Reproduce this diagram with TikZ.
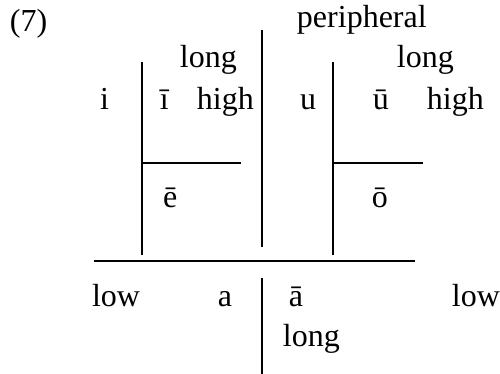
\documentclass[tikz,border=0pt]{standalone}
\usepackage{fontspec}
\setmainfont{Liberation Serif}
\begin{document}
\begin{tikzpicture}[x=0.5pt,y=-0.5pt,
  lbl/.style={anchor=base west,inner sep=0pt,outer sep=0pt,font=\fontsize{16}{19}\selectfont},
  rule/.style={line width=0.9pt}]
\useasboundingbox (0,0) rectangle (500,374);
% texts
\node[lbl] (n7) at (10,32) {(7)};
\node[lbl] (per) at (297,28) {peripheral};
\node[lbl] (longL) at (180,68) {long};
\node[lbl] (longR) at (397,68) {long};
\node[lbl] (i) at (100,110) {i};
\node[lbl] (ilong) at (160,110) {ī};
\node[lbl] (highL) at (197,110) {high};
\node[lbl] (u) at (300,110) {u};
\node[lbl] (ulong) at (373,110) {ū};
\node[lbl] (highR) at (427,110) {high};
\node[lbl] (elong) at (163,208) {ē};
\node[lbl] (olong) at (372,208) {ō};
\node[lbl] (lowL) at (92,307) {low};
\node[lbl] (a) at (218,307) {a};
\node[lbl] (along) at (289,307) {ā};
\node[lbl] (lowR) at (452,307) {low};
\node[lbl] (longB) at (283,347) {long};
% line end points
\coordinate (v1t) at (142,62);  \coordinate (v1b) at (142,255);
\coordinate (h1l) at (142,163); \coordinate (h1r) at (241,163);
\coordinate (v2t) at (262,30);  \coordinate (v2b) at (262,247);
\coordinate (v3t) at (333,62);  \coordinate (v3b) at (333,255);
\coordinate (h2l) at (333,163); \coordinate (h2r) at (423,163);
\coordinate (hLl) at (94,261);  \coordinate (hLr) at (415,261);
\coordinate (v4t) at (262,278); \coordinate (v4b) at (262,374);
\draw[rule] (v1t) -- (v1b);
\draw[rule] (h1l) -- (h1r);
\draw[rule] (v2t) -- (v2b);
\draw[rule] (v3t) -- (v3b);
\draw[rule] (h2l) -- (h2r);
\draw[rule] (hLl) -- (hLr);
\draw[rule] (v4t) -- (v4b);
\end{tikzpicture}
\end{document}
